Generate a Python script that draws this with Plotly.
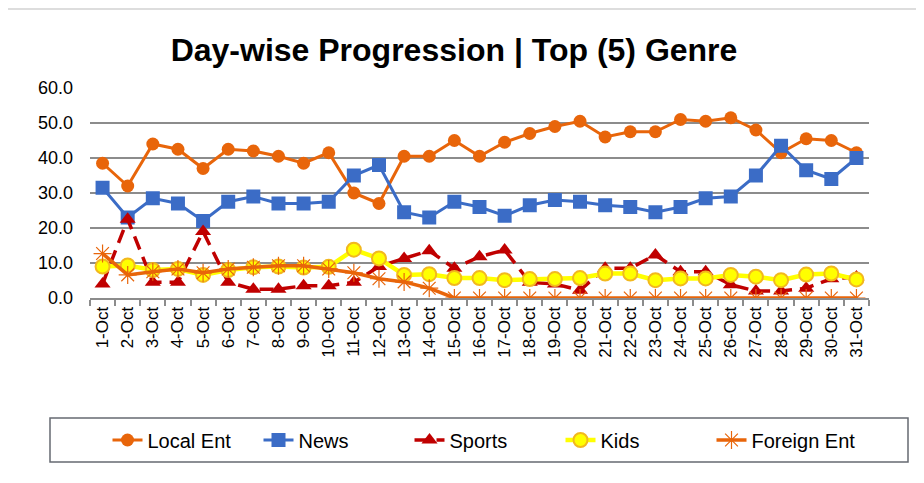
import plotly.graph_objects as go

days = [f"{d}-Oct" for d in range(1, 32)]

local_ent = [38.5, 32, 44, 42.5, 37, 42.5, 42, 40.5, 38.5, 41.5,
             30, 27, 40.5, 40.5, 45, 40.5, 44.5, 47, 49, 50.5,
             46, 47.5, 47.5, 51, 50.5, 51.5, 48, 41.5, 45.5, 45, 41.5]
news = [31.5, 23, 28.5, 27, 22, 27.5, 29, 27, 27, 27.5,
        35, 38, 24.5, 23, 27.5, 26, 23.5, 26.5, 28, 27.5,
        26.5, 26, 24.5, 26, 28.5, 29, 35, 43.5, 36.5, 34, 40]
sports = [4, 22.5, 4.5, 4.5, 19, 4.5, 2.5, 2.5, 3.5, 3.5,
          4.5, 9, 11.3, 13.5, 8.5, 11.8, 13.7, 4.5, 4, 2.2,
          8.5, 8.5, 12.3, 7.5, 7.5, 3.8, 2, 2, 2.8, 5.5, 6]
kids = [9, 9.3, 8, 8.3, 6.6, 8, 8.8, 9, 8.7, 8.9,
        13.8, 11.3, 6.6, 6.8, 5.7, 5.7, 5.1, 5.4, 5.4, 5.7,
        7, 7, 5.1, 5.6, 5.6, 6.6, 6.1, 5.1, 6.7, 7, 5.3]
foreign_ent = [12.7, 6.6, 7.5, 8.3, 7.2, 8.3, 8.8, 9.2, 9.2, 8.3,
               7.2, 5.5, 4.6, 2.8, 0, 0, 0, 0, 0, 0,
               0, 0, 0, 0, 0, 0, 0, 0, 0, 0, 0]

ORANGE = "#E8650A"
BLUE = "#3B6CC6"
RED = "#C00000"

# the page has an 8px body margin, so the figure is 8px smaller each way
W, H = 916, 475
OFF = 8

fig = go.Figure()
fig.add_scatter(x=days, y=local_ent, name="Local Ent", mode="lines+markers",
                line={"color": ORANGE, "width": 3},
                marker={"symbol": "circle", "size": 13, "color": ORANGE})
fig.add_scatter(x=days, y=news, name="News", mode="lines+markers",
                line={"color": BLUE, "width": 3},
                marker={"symbol": "square", "size": 14, "color": BLUE})
fig.add_scatter(x=days, y=sports, name="Sports", mode="lines+markers",
                line={"color": RED, "width": 3.5, "dash": "14px,8px"},
                marker={"symbol": "triangle-up", "size": 14, "color": RED})
fig.add_scatter(x=days, y=kids, name="Kids", mode="lines+markers",
                line={"color": "#FFFF00", "width": 4.5},
                marker={"symbol": "circle", "size": 14, "color": "#FFFF00",
                        "line": {"color": "#F2B81E", "width": 2}})
fig.add_scatter(x=days, y=foreign_ent, name="Foreign Ent", mode="lines+markers",
                line={"color": ORANGE, "width": 3.5},
                marker={"symbol": "asterisk-open", "size": 15,
                        "line": {"color": "#F07A2A", "width": 1.2}})

fig.update_layout(
    width=W, height=H,
    margin={"l": 90 - OFF, "r": 924 - 869, "t": 88 - OFF, "b": 483 - 298,
            "autoexpand": False},
    paper_bgcolor="white", plot_bgcolor="white",
    title={"text": "<b>Day-wise Progression | Top (5) Genre</b>",
           "x": (454 - OFF) / W, "xanchor": "center", "xref": "container",
           "y": 1 - (50 - OFF) / H, "yanchor": "middle", "yref": "container",
           "font": {"family": "Liberation Sans, Arial", "size": 32, "color": "black"}},
    font={"family": "Liberation Sans Narrow, Liberation Sans, Arial", "color": "black"},
    showlegend=True,
    legend={"orientation": "h", "xref": "container", "yref": "container",
            "x": (485 - OFF) / W, "xanchor": "center",
            "y": 1 - (440 - OFF) / H, "yanchor": "middle",
            "font": {"size": 20}, "bgcolor": "rgba(0,0,0,0)",
            "entrywidth": 106, "entrywidthmode": "pixels"},
    shapes=[
        {"type": "rect", "xref": "paper", "yref": "paper",
         "x0": (50 - 90) / 779, "x1": (908 - 90) / 779,
         "y0": (298 - 462) / 210, "y1": (298 - 418) / 210,
         "line": {"color": "#666a72", "width": 1.5}},
        {"type": "line", "xref": "paper", "yref": "paper",
         "x0": -0.12, "x1": 1.08, "y0": (298 - 9) / 210, "y1": (298 - 9) / 210,
         "line": {"color": "#dddddd", "width": 2}},
    ],
)
fig.update_xaxes(
    type="category", range=[-0.5, 30.5], tickangle=-90, tickson="boundaries",
    automargin=False,
    ticks="outside", ticklen=6, tickcolor="#8c8c8c", tickwidth=1.5,
    showline=True, linecolor="#8c8c8c", linewidth=2,
    showgrid=False, tickfont={"size": 17},
)
fig.update_yaxes(
    range=[0, 60], dtick=10, tickformat=".1f", automargin=False,
    showgrid=True, gridcolor="#8c8c8c", gridwidth=2,
    zeroline=False, showline=False, ticks="",
    tickfont={"size": 18}, ticklabelstandoff=16,
)

fig.write_html("out.html")
